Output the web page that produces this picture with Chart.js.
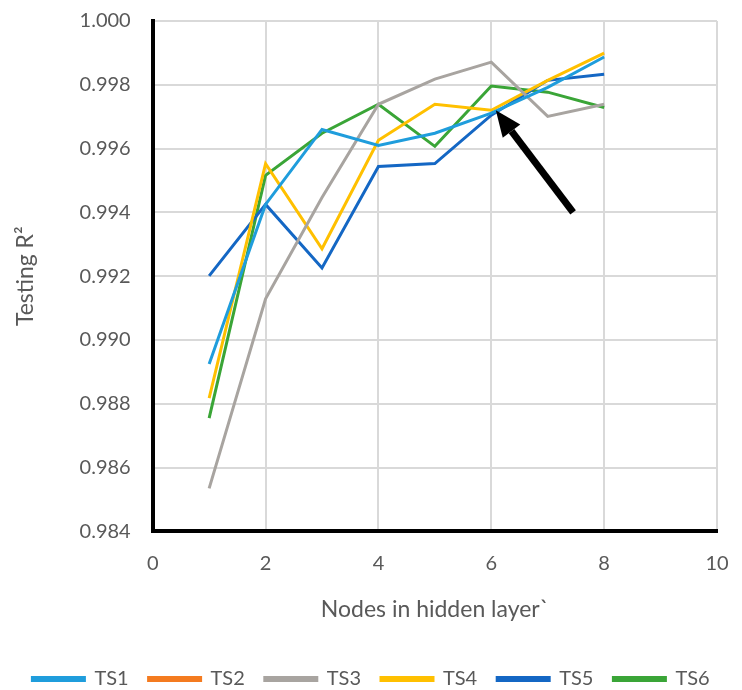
<!DOCTYPE html>
<html lang="en">
<head>
    <meta charset="UTF-8">
    <title>Testing R2 vs nodes</title>
    <style>
        html, body { margin: 0; padding: 0; background: #fff; }
        .box { width: 742px; height: 690px; }
    </style>
</head>
<body>
    <div class="box">
        <canvas id="grafico" width="742" height="690"></canvas>
    </div>
<script src="https://cdn.jsdelivr.net/npm/chart.js"></script>
<script>
    // dados
    const nodes = [1, 2, 3, 4, 5, 6, 7, 8];
    const ts1 = [0.98925, 0.99425, 0.99660, 0.99610, 0.99648, 0.99711, 0.99792, 0.99887];
    const ts2 = [];
    const ts3 = [0.98535, 0.99129, 0.99447, 0.99739, 0.99818, 0.99871, 0.99701, 0.99739];
    const ts4 = [0.98818, 0.99553, 0.99286, 0.99626, 0.99739, 0.99720, 0.99814, 0.99899];
    const ts5 = [0.99201, 0.99425, 0.99226, 0.99544, 0.99553, 0.99705, 0.99814, 0.99833];
    const ts6 = [0.98755, 0.99516, 0.99648, 0.99739, 0.99607, 0.99796, 0.99777, 0.99729];

    const nomes = ['TS1', 'TS2', 'TS3', 'TS4', 'TS5', 'TS6'];
    const cores = ['#1f9ddc', '#f47b20', '#a8a4a0', '#ffc000', '#1467c4', '#3aa537'];
    const series = [ts1, ts2, ts3, ts4, ts5, ts6];

    // seta (em unidades do grafico)
    const setaDe = [7.45, 0.99400];
    const setaPara = [6.08, 0.99720];

    const cinza = '#595959';
    const fonte = 'Lato, "Open Sans", sans-serif';

    const seta = {
        id: 'seta',
        afterDatasetsDraw(chart) {
            const { ctx, scales } = chart;
            const x0 = scales.x.getPixelForValue(setaDe[0]);
            const y0 = scales.y.getPixelForValue(setaDe[1]);
            const x1 = scales.x.getPixelForValue(setaPara[0]);
            const y1 = scales.y.getPixelForValue(setaPara[1]);
            const ang = Math.atan2(y1 - y0, x1 - x0);
            const cab = 26;
            const larg = 11;
            const bx = x1 - cab * Math.cos(ang);
            const by = y1 - cab * Math.sin(ang);

            ctx.save();
            ctx.strokeStyle = '#000';
            ctx.fillStyle = '#000';
            ctx.lineWidth = 7;
            ctx.beginPath();
            ctx.moveTo(x0, y0);
            ctx.lineTo(bx, by);
            ctx.stroke();
            ctx.beginPath();
            ctx.moveTo(x1, y1);
            ctx.lineTo(bx + larg * Math.sin(ang), by - larg * Math.cos(ang));
            ctx.lineTo(bx - larg * Math.sin(ang), by + larg * Math.cos(ang));
            ctx.closePath();
            ctx.fill();
            ctx.restore();
        }
    };

    const ctx = document.getElementById('grafico');
    new Chart(ctx, {
        type: 'line',
        data: {
            datasets: series.map((s, i) => ({
                label: nomes[i],
                data: s.map((v, j) => ({ x: nodes[j], y: v })),
                borderColor: cores[i],
                backgroundColor: cores[i],
                borderWidth: 3,
                pointRadius: 0,
                tension: 0
            }))
        },
        options: {
            responsive: false,
            animation: false,
            layout: {
                padding: { top: 0, right: 0, left: 0, bottom: -9 }
            },
            plugins: {
                tooltip: { enabled: false },
                legend: {
                    position: 'bottom',
                    labels: {
                        boxWidth: 52,
                        boxHeight: 3,
                        padding: 20,
                        color: cinza,
                        font: { family: fonte, size: 20 }
                    }
                }
            },
            scales: {
                x: {
                    type: 'linear',
                    min: 0,
                    max: 10,
                    afterFit: (s) => { s.paddingRight = 25; },
                    ticks: {
                        stepSize: 2,
                        padding: 20,
                        color: cinza,
                        font: { family: fonte, size: 20 }
                    },
                    grid: { color: '#d9d9d9', lineWidth: 2, drawTicks: false },
                    border: { color: '#000', width: 4 },
                    title: {
                        display: true,
                        text: 'Nodes in hidden layer`',
                        color: cinza,
                        font: { family: fonte, size: 23 },
                        padding: { top: 0, bottom: 26 }
                    }
                },
                y: {
                    min: 0.984,
                    max: 1.000,
                    afterFit: (s) => { s.paddingTop = 21; },
                    ticks: {
                        stepSize: 0.002,
                        padding: 22,
                        color: cinza,
                        font: { family: fonte, size: 20 },
                        callback: (v) => v.toFixed(3)
                    },
                    grid: { color: '#d9d9d9', lineWidth: 2, drawTicks: false },
                    border: { color: '#000', width: 4 },
                    title: {
                        display: true,
                        text: 'Testing R²',
                        color: cinza,
                        font: { family: fonte, size: 23 },
                        padding: { top: 12, bottom: 18 }
                    }
                }
            }
        },
        plugins: [seta]
    });
</script>
</body>
</html>
